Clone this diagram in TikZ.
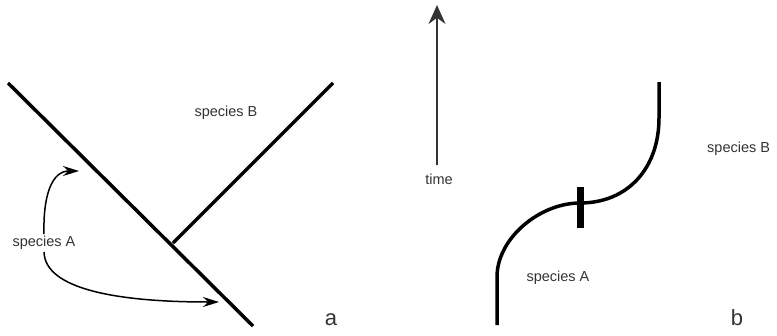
\documentclass[tikz,border=0pt]{standalone}
\usepackage{fontspec}
\setmainfont{Liberation Sans}
\usetikzlibrary{arrows.meta}
\definecolor{txt}{HTML}{333333}
\tikzset{
  branch/.style={line width=3.5pt, black, line cap=butt},
  lbl/.style={font=\fontsize{14.5}{17}\selectfont, text=txt, inner sep=0pt},
  panel/.style={font=\fontsize{22}{25}\selectfont, text=txt, inner sep=0pt},
  move/.style={line width=1.5pt, -{Stealth[length=16pt,width=10pt]}},
  timeax/.style={line width=1.5pt, draw=txt, -{Stealth[length=19pt,width=17pt]}}
}
\begin{document}
\begin{tikzpicture}[x=1pt,y=-1pt]
\useasboundingbox (0,0) rectangle (777,335);
% panel a
\coordinate (a1) at (8,83);
\coordinate (a2) at (253,326);
\coordinate (j) at (173,243);
\coordinate (bt) at (333,83);
\draw[branch] (a1) -- (a2);
\draw[branch] (j) -- (bt);
\node[lbl] (sB) at (226,113) {species B};
\node[lbl] (sA) at (44,243) {species A};
\coordinate (u1) at (79,171);
\coordinate (u2) at (219,302);
\draw[move] (sA.north) ++(0,-2) .. controls (43,195) and (52,171) .. (u1);
\draw[move] (sA.south) ++(0,2) .. controls (45,290) and (120,302) .. (u2);
\node[panel] (pa) at (331,320) {a};
% panel b
\coordinate (t0) at (437,165);
\coordinate (t1) at (437,5);
\draw[timeax] (t0) -- (t1);
\node[lbl] (time) at (439,179) {time};
\coordinate (c0) at (497,325);
\coordinate (c1) at (497,277);
\coordinate (m) at (580,203);
\coordinate (c2) at (659,118);
\coordinate (c3) at (659,82);
\draw[branch, line join=round] (c0) -- (c1) .. controls (497,238) and (540,203) .. (m)
   .. controls (628,203) and (659,168) .. (c2) -- (c3);
\draw[line width=7pt] (580,187) -- (580,228);
\node[lbl] (bA) at (558,278) {species A};
\node[lbl, anchor=west] (bB) at (707,149) {species B};
\node[panel] (pb) at (737,318) {b};
\end{tikzpicture}
\end{document}
